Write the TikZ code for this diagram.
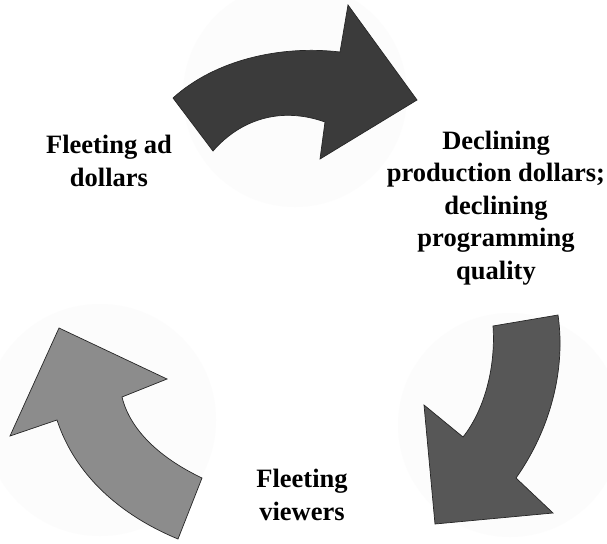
\documentclass[tikz,border=0pt]{standalone}
\usepackage{fontspec}
\setmainfont{Liberation Serif}
\begin{document}
\begin{tikzpicture}[x=1pt,y=-1pt,
  halo/.style={fill=black!1.2,draw=none},
  arrowshape/.style={draw=black!85,line width=0.7pt,line join=miter},
  label/.style={font=\bfseries\fontsize{26.5}{32.5}\selectfont,align=center,inner sep=0pt}]
  \useasboundingbox (0,0) rectangle (607,543);
  \fill[white] (0,0) rectangle (607,543);

  % faint discs behind the three arrows
  \fill[halo] (100,420) circle (116);
  \fill[halo] (510,425) circle (112);
  \fill[halo] (295,95) circle (112);

  % top arrow: ad dollars -> production dollars
  \filldraw[arrowshape,fill=black!77]
    (173,98) .. controls (215,60) and (280,45) .. (340,52)
    -- (348,5) -- (417,100) -- (320,159) -- (325,122)
    .. controls (280,106) and (240,120) .. (213,151) -- cycle;

  % right arrow: programming quality -> viewers
  \filldraw[arrowshape,fill=black!66]
    (493,326) -- (558,315)
    .. controls (566,370) and (550,430) .. (516,478)
    -- (553,513) -- (435,524) -- (424,405) -- (463,437)
    .. controls (483,412) and (496,370) .. (493,326) -- cycle;

  % left arrow: viewers -> ad dollars
  \filldraw[arrowshape,fill=black!45]
    (59,328) -- (167,379) -- (122,397)
    .. controls (130,430) and (160,458) .. (202,478)
    -- (178,539)
    .. controls (120,515) and (75,475) .. (57,420)
    -- (10,436) -- cycle;

  % stage labels
  \node[label] (ads) at (109,161) {Fleeting ad\\dollars};
  \node[label] (prod) at (496,208) {Declining\\production dollars;\\declining\\programming\\quality};
  \node[label] (view) at (302,495) {Fleeting\\viewers};
\end{tikzpicture}
\end{document}
